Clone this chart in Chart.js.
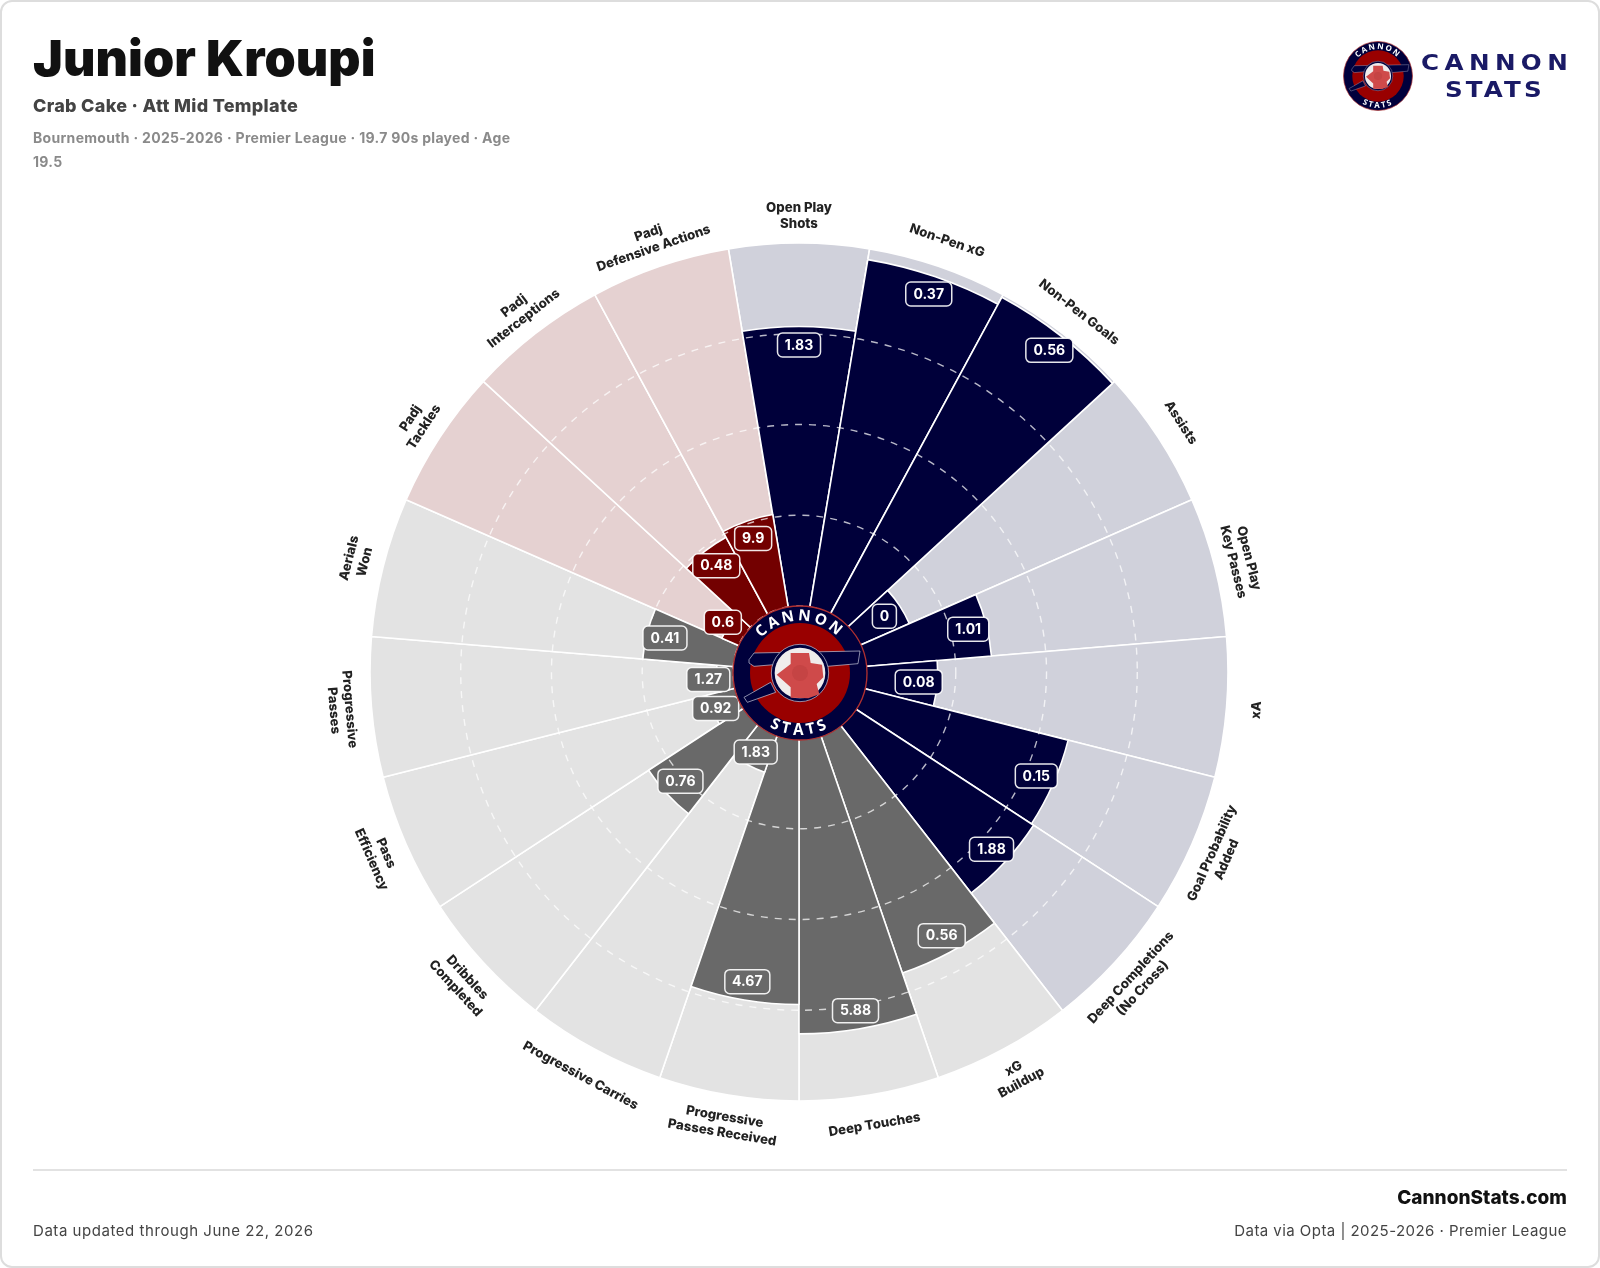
<!DOCTYPE html>
<html><head><meta charset="utf-8">
<script src="https://cdn.jsdelivr.net/npm/chart.js@4"></script>
<style>
html,body{margin:0;padding:0;background:#fff;width:1600px;height:1268px;overflow:hidden;font-family:Inter,sans-serif}
#card{position:absolute;left:0;top:0;width:1596px;height:1264px;border:2px solid #ddd;border-radius:12px}
canvas{position:absolute;left:0;top:0}
.t{position:absolute;white-space:nowrap}
#title{left:33px;top:26px;font-size:50px;line-height:64px;font-weight:900;color:#111;letter-spacing:.1px}
#sub{left:33px;top:95px;font-size:18px;line-height:22px;font-weight:800;color:#444;letter-spacing:.3px}
#meta{left:33px;top:126px;font-size:14px;line-height:24px;font-weight:700;color:#8a8a8a;letter-spacing:.31px}
#rule{position:absolute;left:33px;top:1169px;width:1534px;height:2px;background:#e2e2e2}
#site{right:33px;top:1186px;font-size:19px;line-height:24px;font-weight:800;color:#111}
#fl{left:33px;top:1221px;font-size:15px;line-height:20px;color:#444;letter-spacing:.55px}
#fr{right:33px;top:1221px;font-size:15px;line-height:20px;color:#444;letter-spacing:.45px}
#brand{position:absolute;left:1421px;top:50px;color:#1a1a66;font-family:"DejaVu Sans",sans-serif;font-weight:700}
#brand div{position:absolute;white-space:nowrap;font-size:20.5px;line-height:26px;transform:scaleX(1.2);transform-origin:left center}
svg.logo{position:absolute}
</style></head><body>
<div id="card"></div>
<canvas id="c" width="1600" height="1268"></canvas>
<svg width="0" height="0" style="position:absolute"><defs>
<symbol id="logo" viewBox="-204 -204 408 408">
<path id="arcTop" d="M -136 78 A 157 157 0 1 1 136 78" fill="none"/>
<path id="arcBot" d="M -162 94 A 190 190 0 0 0 162 94" fill="none"/>
<circle r="201" fill="#00003c" stroke="#b03030" stroke-width="4"/>
<circle r="150" fill="#990000"/>
<path d="M-153,-40 L-138,-60 L180,-66 L174,-28 L82,-20 L-78,-25 L-138,-20 L-153,-30 Z" fill="#00003c" stroke="#cfd0e0" stroke-width="2"/>
<path d="M-168,73 L-88,28 L-73,58 L-158,88 Z" fill="#00003c" stroke="#cfd0e0" stroke-width="2"/>
<circle r="86" fill="#00003c" stroke="#cfd0e0" stroke-width="2"/>
<circle r="76" fill="#f0ecec"/>
<path d="M-28,-60 L27,-60 L32,-30 L66,-25 L70,13 L50,33 L58,64 L25,76 L-28,74 L-28,43 L-70,5 L-28,-27 Z" fill="#cf4a4a"/>
<circle r="24" fill="#c54444"/>
<text font-family="Open Sans" font-weight="700" font-size="46" fill="#fff" letter-spacing="9" text-anchor="middle"><textPath href="#arcTop" startOffset="50%">CANNON</textPath></text>
<text font-family="Open Sans" font-weight="700" font-size="46" fill="#fff" letter-spacing="11" text-anchor="middle"><textPath href="#arcBot" startOffset="50%">STATS</textPath></text>
</symbol></defs></svg>
<svg class="logo" style="left:731.5px;top:604.5px" width="136" height="136"><use href="#logo" width="136" height="136"/></svg>
<svg class="logo" style="left:1343.3px;top:41px" width="70" height="70"><use href="#logo" width="70" height="70"/></svg>
<div id="brand"><div style="left:0;top:-.5px;letter-spacing:4.5px">CANNON</div><div style="left:24px;top:26.5px;letter-spacing:2.6px">STATS</div></div>
<div class="t" id="title">Junior Kroupi</div>
<div class="t" id="sub">Crab Cake · Att Mid Template</div>
<div class="t" id="meta">Bournemouth · 2025-2026 · Premier League · 19.7 90s played · Age<br>19.5</div>
<div id="rule"></div>
<div class="t" id="site">CannonStats.com</div>
<div class="t" id="fl">Data updated through June 22, 2026</div>
<div class="t" id="fr">Data via Opta | 2025-2026 · Premier League</div>
<script>
const metrics = ["Open Play\nShots","Non-Pen xG","Non-Pen Goals","Assists","Open Play\nKey Passes","xA","Goal Probability\nAdded","Deep Completions\n(No Cross)","xG\nBuildup","Deep Touches","Progressive\nPasses Received","Progressive Carries","Dribbles\nCompleted","Pass\nEfficiency","Progressive\nPasses","Aerials\nWon","Padj\nTackles","Padj\nInterceptions","Padj\nDefensive Actions"];
const percentiles = [77,97,99.2,15,35,20,58.3,59,69.5,81.5,73.4,11,31.3,8,4.5,25,5,24,25.8];
const valueLabels = ["1.83","0.37","0.56","0","1.01","0.08","0.15","1.88","0.56","5.88","4.67","1.83","0.76","0.92","1.27","0.41","0.6","0.48","9.9"];
const groups = ["att","att","att","att","att","att","att","att","pos","pos","pos","pos","pos","pos","pos","pos","def","def","def"];
const fullScale = [100,100,100,100,100,100,100,100,100,100,100,100,100,100,100,100,100,100,100];
const ringTicks = [0,25,50,75];
const darkColors = {att:"#00003a",pos:"#696969",def:"#730000"};
const lightColors = {att:"#d0d1db",pos:"#e3e3e3",def:"#e5d1d1"};

const labelPlugin = {
  id:"labels",
  afterDraw(chart){
    const ctx = chart.ctx, scale = chart.scales.r, meta = chart.getDatasetMeta(0);
    const outer = scale.getDistanceFromCenterForValue(100);
    meta.data.forEach((arc,i)=>{
      const {startAngle,endAngle} = arc.getProps(["startAngle","endAngle"],true);
      const a = (startAngle+endAngle)/2;
      const end = scale.getDistanceFromCenterForValue(percentiles[i]);
      const r = Math.max(end-18.5,91);
      const x = scale.xCenter+Math.cos(a)*r, y = scale.yCenter+Math.sin(a)*r;
      ctx.save();
      ctx.font = '700 14px Inter';
      const w = Math.round(ctx.measureText(valueLabels[i]).width)+15, h = 24;
      ctx.beginPath();
      ctx.roundRect(x-w/2,y-h/2,w,h,5);
      ctx.fillStyle = darkColors[groups[i]];
      ctx.fill();
      ctx.lineWidth = 1.5; ctx.strokeStyle = "rgba(255,255,255,.9)"; ctx.stroke();
      ctx.fillStyle = "#fff"; ctx.textAlign="center"; ctx.textBaseline="middle";
      ctx.fillText(valueLabels[i],x,y+.5);
      ctx.restore();
      // metric name, tangent to the rim
      const lines = metrics[i].split("\n");
      const deg = ((a+Math.PI/2)*180/Math.PI+720)%360;
      const flip = deg>90 && deg<270;
      const rr = outer+27+(flip?3:0);
      ctx.save();
      ctx.translate(scale.xCenter+Math.cos(a)*rr, scale.yCenter+Math.sin(a)*rr);
      ctx.rotate((flip?deg-180:deg)*Math.PI/180);
      ctx.font = '800 13.2px Inter';
      ctx.fillStyle = "#222"; ctx.textAlign="center"; ctx.textBaseline="middle";
      lines.forEach((t,k)=>ctx.fillText(t,0,(k-(lines.length-1)/2)*16));
      ctx.restore();
    });
  }
};

new Chart(document.getElementById("c"),{
  type:"polarArea",
  plugins:[labelPlugin],
  data:{labels:metrics,datasets:[
    {data:percentiles,backgroundColor:groups.map(g=>darkColors[g]),borderColor:"#fff",borderWidth:1.6,order:0},
    {data:fullScale,backgroundColor:groups.map(g=>lightColors[g]),borderColor:"#fff",borderWidth:1.6,order:1}
  ]},
  options:{
    responsive:false,animation:false,
    layout:{padding:{top:243,bottom:166,left:370,right:371}},
    plugins:{legend:{display:false},tooltip:{enabled:false}},
    scales:{r:{
      min:-18.2,max:100,startAngle:-180/19,
      afterBuildTicks(s){s.ticks=ringTicks.map(v=>({value:v}));},
      ticks:{display:false},
      pointLabels:{display:false},
      angleLines:{display:false},
      grid:{z:1,color:"rgba(255,255,255,.72)",lineWidth:1.4,circular:true},
      border:{dash:[7,7]}
    }}
  }
});
</script>
</body></html>
